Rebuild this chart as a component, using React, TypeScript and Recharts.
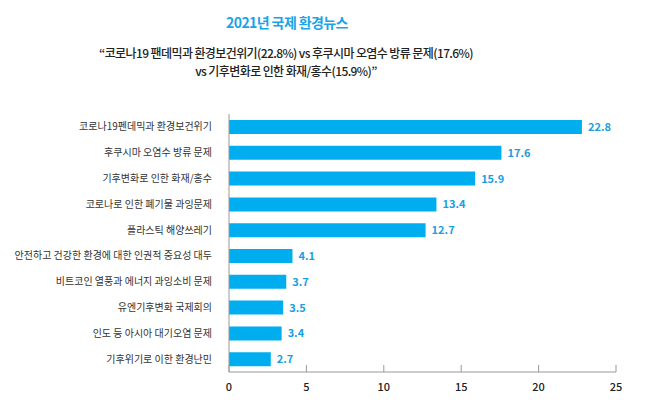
import React from "react";
import { BarChart, Bar, XAxis, YAxis, LabelList } from "recharts";

const categories = [
  "코로나19펜데믹과 환경보건위기",
  "후쿠시마 오염수 방류 문제",
  "기후변화로 인한 화재/홍수",
  "코로나로 인한 폐기물 과잉문제",
  "플라스틱 해양쓰레기",
  "안전하고 건강한 환경에 대한 인권적 중요성 대두",
  "비트코인 열풍과 에너지 과잉소비 문제",
  "유엔기후변화 국제회의",
  "인도 등 아시아 대기오염 문제",
  "기후위기로 이한 환경난민",
];
const values = [22.8, 17.6, 15.9, 13.4, 12.7, 4.1, 3.7, 3.5, 3.4, 2.7];
const xTicks = [0, 5, 10, 15, 20, 25];

const data = categories.map((name, i) => ({ name, value: values[i] }));

const BLUE = "#00aeef";
const FONT = "'Noto Sans CJK KR', 'Noto Sans', sans-serif";

const XTick = (props: any) => {
  const { x, y, payload } = props;
  return (
    <g>
      <line x1={x} y1={y} x2={x} y2={y - 7} stroke="#999" strokeWidth={1} />
      <text
        x={x}
        y={y + 19}
        textAnchor="middle"
        fontSize={11}
        fontWeight={500}
        fill="#222"
        fontFamily={FONT}
      >
        {payload.value}
      </text>
    </g>
  );
};

const YTick = (props: any) => {
  const { x, y, payload } = props;
  return (
    <text
      x={x}
      y={y}
      dy="0.35em"
      textAnchor="end"
      fontSize={10}
      fill="#333"
      fontFamily={FONT}
    >
      {payload.value}
    </text>
  );
};

export default function App() {
  return (
    <div
      style={{
        position: "relative",
        width: 650,
        height: 407,
        margin: -8,
        background: "#fff",
        fontFamily: FONT,
      }}
    >
      <div
        style={{
          position: "absolute",
          top: 12,
          left: 0,
          width: 574,
          textAlign: "center",
          fontSize: 14,
          fontWeight: 700,
          color: "#1aa3e8",
          letterSpacing: -0.6,
        }}
      >
        2021년 국제 환경뉴스
      </div>
      <div
        style={{
          position: "absolute",
          top: 44,
          left: 0,
          width: 572,
          textAlign: "center",
          fontSize: 12,
          fontWeight: 500,
          lineHeight: "18px",
          color: "#222",
          letterSpacing: -0.6,
        }}
      >
        “코로나19 팬데믹과 환경보건위기(22.8%) vs 후쿠시마 오염수 방류 문제(17.6%)
        <br />
        vs 기후변화로 인한 화재/홍수(15.9%)”
      </div>
      <div style={{ position: "absolute", top: 0, left: 0 }}>
        <BarChart
          width={650}
          height={407}
          layout="vertical"
          data={data}
          margin={{ top: 114, right: 34, bottom: 0, left: 0 }}
        >
          <XAxis
            type="number"
            domain={[0, 25]}
            ticks={xTicks}
            height={35}
            stroke="#999"
            tickSize={0}
            tickMargin={0}
            tick={<XTick />}
            interval={0}
          />
          <YAxis
            type="category"
            dataKey="name"
            width={229}
            stroke="#999"
            tickLine={false}
            tickMargin={11}
            interval={0}
            tick={<YTick />}
          />
          <Bar dataKey="value" fill={BLUE} barSize={14} isAnimationActive={false}>
            <LabelList
              dataKey="value"
              position="right"
              offset={6}
              fill="#1a9fe0"
              fontSize={11}
              fontWeight={700}
              fontFamily={FONT}
            />
          </Bar>
        </BarChart>
      </div>
    </div>
  );
}
